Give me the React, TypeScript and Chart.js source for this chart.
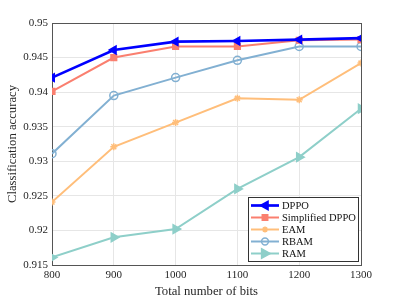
import React, { useEffect, useRef } from "react";
import { Chart, registerables } from "chart.js";

Chart.register(...registerables);

const bits = [800, 900, 1000, 1100, 1200, 1300];
const dppo = [0.9421, 0.9461, 0.9473, 0.9474, 0.9476, 0.9478];
const simplifiedDppo = [0.9401, 0.9450, 0.9466, 0.9466, 0.9475, 0.9476];
const eam = [0.9241, 0.9321, 0.9356, 0.9391, 0.9389, 0.9442];
const rbam = [0.9311, 0.9395, 0.9421, 0.9446, 0.9466, 0.9466];
const ram = [0.9161, 0.9190, 0.9202, 0.9260, 0.9306, 0.9376];
const yTicks = [0.915, 0.92, 0.925, 0.93, 0.935, 0.94, 0.945, 0.95];

const FONT = "'Liberation Serif', 'Times New Roman', serif";

const legendPlugin = {
  id: "boxLegend",
  afterDraw(chart: any) {
    const ctx = chart.ctx;
    const area = chart.chartArea;
    const x0 = area.right - 113;
    const y0 = area.bottom - 68;
    const w = 110;
    const h = 64;
    ctx.save();
    ctx.fillStyle = "#ffffff";
    ctx.fillRect(x0, y0, w, h);
    ctx.strokeStyle = "#333333";
    ctx.lineWidth = 1;
    ctx.strokeRect(x0 + 0.5, y0 + 0.5, w, h);
    ctx.font = `10.5px ${FONT}`;
    ctx.textBaseline = "middle";
    chart.data.datasets.forEach((ds: any, i: number) => {
      const cy = y0 + 8.5 + i * 12;
      const lx1 = x0 + 3;
      const lx2 = x0 + 31;
      ctx.strokeStyle = ds.borderColor;
      ctx.lineWidth = ds.borderWidth;
      ctx.beginPath();
      ctx.moveTo(lx1, cy);
      ctx.lineTo(lx2, cy);
      ctx.stroke();
      const mx = (lx1 + lx2) / 2;
      ctx.fillStyle = ds.pointBackgroundColor;
      ctx.strokeStyle = ds.borderColor;
      ctx.lineWidth = 1.5;
      const style = ds.pointStyle;
      const r = ds.pointRadius * 0.85;
      const rot = ((ds.pointRotation || 0) * Math.PI) / 180;
      ctx.save();
      ctx.translate(mx, cy);
      ctx.rotate(rot);
      ctx.beginPath();
      if (style === "triangle") {
        ctx.moveTo(0, -r * 1.2);
        ctx.lineTo(r * 1.1, r * 0.8);
        ctx.lineTo(-r * 1.1, r * 0.8);
        ctx.closePath();
        ctx.fill();
        ctx.stroke();
      } else if (style === "rect") {
        ctx.rect(-r * 0.8, -r * 0.8, r * 1.6, r * 1.6);
        ctx.fill();
        ctx.stroke();
      } else if (style === "circle") {
        ctx.arc(0, 0, r, 0, Math.PI * 2);
        ctx.stroke();
      } else if (style === "star") {
        for (let k = 0; k < 4; k++) {
          const a = (k * Math.PI) / 4;
          ctx.moveTo(Math.cos(a) * r, Math.sin(a) * r);
          ctx.lineTo(-Math.cos(a) * r, -Math.sin(a) * r);
        }
        ctx.stroke();
      }
      ctx.restore();
      ctx.fillStyle = "#111111";
      ctx.fillText(ds.label, x0 + 34, cy + 0.5);
    });
    ctx.restore();
  },
};

const mk = (label: string, data: number[], color: string, style: string, rot: number, width: number, filled: boolean, radius: number) => ({
  label,
  data: bits.map((b, i) => ({ x: b, y: data[i] })),
  borderColor: color,
  backgroundColor: color,
  pointBackgroundColor: filled ? color : "rgba(0,0,0,0)",
  pointBorderColor: color,
  pointStyle: style,
  pointRotation: rot,
  pointRadius: radius,
  pointBorderWidth: 1.5,
  borderWidth: width,
  tension: 0,
  fill: false,
});

export default function App() {
  const ref = useRef<HTMLCanvasElement>(null);
  useEffect(() => {
    document.body.style.margin = "0";
    const chart = new Chart(ref.current!, {
      type: "line",
      data: {
        datasets: [
          mk("DPPO", dppo, "#0000ff", "triangle", 270, 2.7, true, 4.5),
          mk("Simplified DPPO", simplifiedDppo, "#fa7f6f", "rect", 0, 2, true, 4),
          mk("EAM", eam, "#ffbe7a", "star", 0, 2, true, 3.5),
          mk("RBAM", rbam, "#82b0d2", "circle", 0, 2, false, 4),
          mk("RAM", ram, "#8ecfc9", "triangle", 90, 2, true, 5),
        ] as any,
      },
      options: {
        animation: false,
        responsive: false,
        events: [],
        layout: { padding: { top: 23, right: 38, left: 0, bottom: 0 } },
        plugins: { legend: { display: false }, tooltip: { enabled: false } },
        scales: {
          x: {
            type: "linear",
            min: 800,
            max: 1300,
            afterFit: (s: any) => { s.height = 34; },
            ticks: { stepSize: 100, color: "#262626", font: { family: FONT, size: 11 }, padding: 4, callback: (v: any) => String(v) },
            grid: { color: "#e6e6e6", drawTicks: false, lineWidth: 1 },
            border: { color: "#555555", width: 1 },
            title: { display: true, text: "Total number of bits", color: "#262626", font: { family: FONT, size: 12.7 }, padding: { top: 0, bottom: 0 } },
          },
          y: {
            type: "linear",
            min: 0.915,
            max: 0.95,
            afterFit: (s: any) => { s.width = 52; },
            afterBuildTicks: (s: any) => { s.ticks = yTicks.map((v) => ({ value: v })); },
            ticks: { color: "#262626", font: { family: FONT, size: 11 }, padding: 4, callback: (v: any) => String(Math.round(Number(v) * 1000) / 1000) },
            grid: { color: "#e6e6e6", drawTicks: false, lineWidth: 1 },
            border: { color: "#555555", width: 1 },
            title: { display: true, text: "Classification accuracy", color: "#262626", font: { family: FONT, size: 12.7 }, padding: { top: 5, bottom: 0 } },
          },
          x2: {
            type: "linear",
            position: "top",
            min: 800,
            max: 1300,
            ticks: { display: false },
            grid: { display: false, drawTicks: false },
            border: { color: "#555555", width: 1 },
            afterFit: (s: any) => { s.height = 0; },
          },
          y2: {
            type: "linear",
            position: "right",
            min: 0.915,
            max: 0.95,
            ticks: { display: false },
            grid: { display: false, drawTicks: false },
            border: { color: "#555555", width: 1 },
            afterFit: (s: any) => { s.width = 0; },
          },
        },
      } as any,
      plugins: [legendPlugin],
    });
    return () => chart.destroy();
  }, []);
  return (
    <div style={{ width: 399, height: 299, background: "#fff" }}>
      <canvas ref={ref} width={399} height={299} style={{ display: "block" }} />
    </div>
  );
}
